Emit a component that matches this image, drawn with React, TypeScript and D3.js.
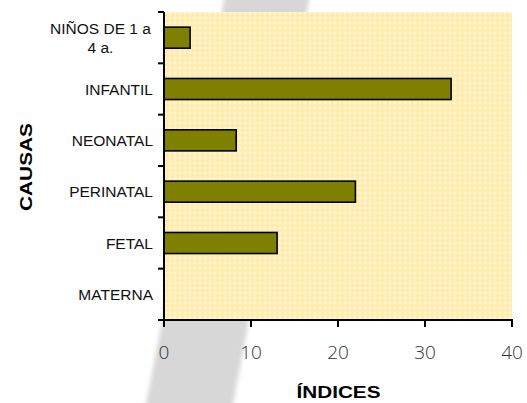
import React from "react";
import * as d3 from "d3";

const categories = ["NIÑOS DE 1 a 4 a.", "INFANTIL", "NEONATAL", "PERINATAL", "FETAL", "MATERNA"];
const categoryLines = [["NIÑOS DE 1 a", "4 a."], ["INFANTIL"], ["NEONATAL"], ["PERINATAL"], ["FETAL"], ["MATERNA"]];
const values = [3, 33, 8.3, 22, 13, 0];
const xTicks = [0, 10, 20, 30, 40];
const xTitle = "ÍNDICES";
const yTitle = "CAUSAS";

const W = 527;
const H = 403;
const plot = { left: 164, right: 512, top: 12, bottom: 320 };

export default function App() {
  const x = d3.scaleLinear().domain([0, 40]).range([plot.left, plot.right]);
  const y = d3
    .scaleBand<string>()
    .domain(categories)
    .range([plot.top, plot.bottom])
    .paddingInner(0.59)
    .paddingOuter(0.295);
  const step = y.step();
  const catBoundaries = d3.range(categories.length + 1).map((i) => plot.top + i * step);

  return (
    <div style={{ position: "absolute", left: 0, top: 0 }}>
      <svg width={W} height={H} style={{ display: "block" }}>
        <defs>
          <pattern id="dots" width={5} height={5} patternUnits="userSpaceOnUse" x={plot.left} y={plot.top}>
            <rect width={5} height={5} fill="#FFEFB6" />
            <rect x={0} y={0} width={2} height={2} fill="#FFF7D8" />
            <rect x={2.5} y={2.5} width={2} height={2} fill="#FFE8A4" />
          </pattern>
          <filter id="soft" x="-20%" y="-20%" width="140%" height="140%">
            <feGaussianBlur stdDeviation="2" />
          </filter>
        </defs>
        <rect width={W} height={H} fill="#ffffff" />
        {/* watermark */}
        <polygon points="225,-5 310,-5 232,410 145,410" fill="#d7d7d7" filter="url(#soft)" />
        <rect x={plot.left} y={plot.top} width={plot.right - plot.left} height={plot.bottom - plot.top} fill="url(#dots)" />
        {/* bars */}
        {categories.map((c, i) =>
          values[i] > 0 ? (
            <rect
              key={c}
              x={x(0)}
              y={y(c)}
              width={x(values[i]) - x(0)}
              height={y.bandwidth()}
              fill="#808000"
              stroke="#000"
              strokeWidth={1.6}
            />
          ) : null
        )}
        {/* y axis */}
        <line x1={plot.left} x2={plot.left} y1={plot.top} y2={plot.bottom + 1} stroke="#000" strokeWidth={2} />
        {catBoundaries.map((b, i) => (
          <line key={i} x1={plot.left - 6} x2={plot.left} y1={b} y2={b} stroke="#000" strokeWidth={2} />
        ))}
        {/* x axis */}
        <line x1={plot.left - 1} x2={plot.right + 1} y1={plot.bottom} y2={plot.bottom} stroke="#000" strokeWidth={2} />
        {xTicks.map((t) => (
          <g key={t}>
            <line x1={x(t)} x2={x(t)} y1={plot.bottom} y2={plot.bottom + 7} stroke="#000" strokeWidth={2} />
            <text
              x={x(t)}
              y={358.5}
              textAnchor="middle"
              fontFamily="'Open Sans', sans-serif"
              fontWeight={300}
              fontSize={19}
              fill="#333"
            >
              {t}
            </text>
          </g>
        ))}
        {/* category labels */}
        {categories.map((c, i) => {
          const lines = categoryLines[i];
          const cy = (y(c) as number) + y.bandwidth() / 2;
          const lh = 19;
          const firstBase = cy + 5.5 - ((lines.length - 1) * lh) / 2;
          const cxText = lines.length > 1 ? 100.5 : undefined;
          return (
            <text
              key={c}
              fontFamily="'Liberation Sans', Arial, sans-serif"
              fontSize={15.5}
              fill="#111"
              textAnchor={lines.length > 1 ? "middle" : "end"}
            >
              {lines.map((l, j) => (
                <tspan key={j} x={cxText ?? 153} y={firstBase + j * lh}>
                  {l}
                </tspan>
              ))}
            </text>
          );
        })}
        {/* axis titles */}
        <text
          x={338.5}
          y={397.5}
          textAnchor="middle"
          fontFamily="'Liberation Sans', Arial, sans-serif"
          fontWeight="bold"
          fontSize={16}
          textLength={84}
          lengthAdjust="spacingAndGlyphs"
          fill="#000"
        >
          {xTitle}
        </text>
        <text
          transform={`translate(31.5, 167) rotate(-90)`}
          textAnchor="middle"
          fontFamily="'Liberation Sans', Arial, sans-serif"
          fontWeight="bold"
          fontSize={17}
          textLength={88}
          lengthAdjust="spacingAndGlyphs"
          fill="#000"
        >
          {yTitle}
        </text>
      </svg>
    </div>
  );
}
